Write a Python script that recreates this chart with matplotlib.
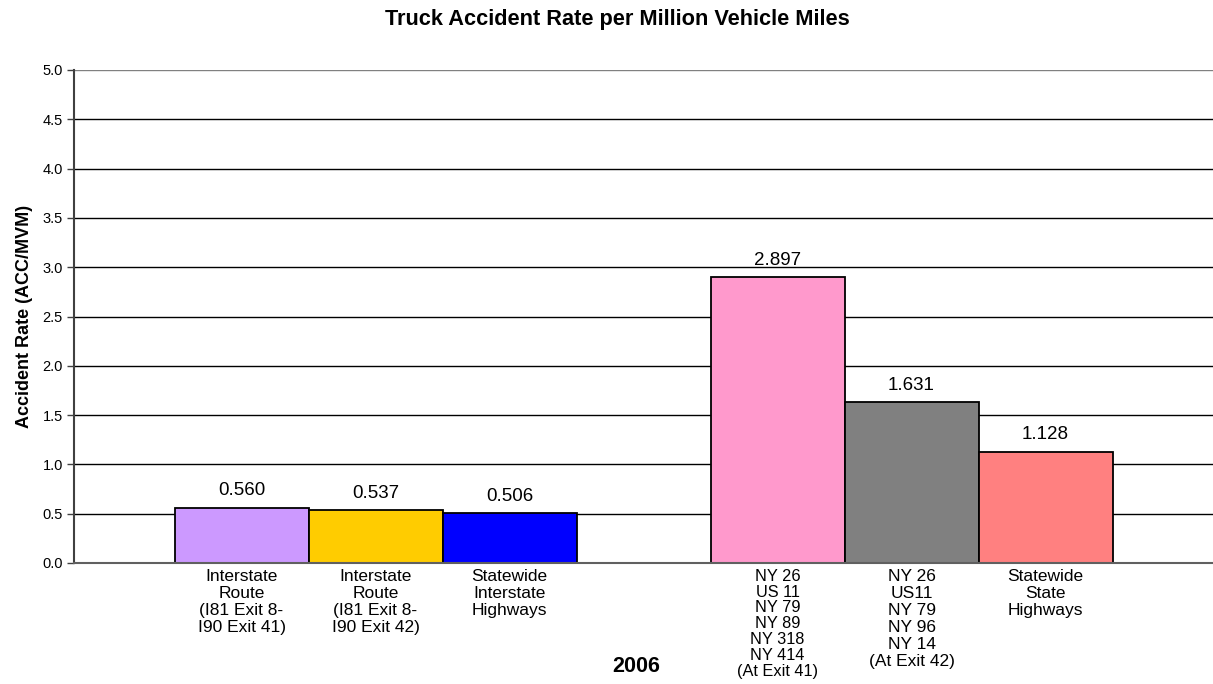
import matplotlib
matplotlib.use("Agg")
import matplotlib.pyplot as plt

plt.rcParams['font.family'] = ['Liberation Sans', 'DejaVu Sans']

categories = [
    "Interstate\nRoute\n(I81 Exit 8-\nI90 Exit 41)",
    "Interstate\nRoute\n(I81 Exit 8-\nI90 Exit 42)",
    "Statewide\nInterstate\nHighways",
    "NY 26\nUS 11\nNY 79\nNY 89\nNY 318\nNY 414\n(At Exit 41)",
    "NY 26\nUS11\nNY 79\nNY 96\nNY 14\n(At Exit 42)",
    "Statewide\nState\nHighways",
]
values = [0.560, 0.537, 0.506, 2.897, 1.631, 1.128]
value_labels = ["0.560", "0.537", "0.506", "2.897", "1.631", "1.128"]
colors = ["#CC99FF", "#FFCC00", "#0000FF", "#FF99CC", "#808080", "#FF8080"]
positions = [0, 1, 2, 4, 5, 6]
yticks = [0.0, 0.5, 1.0, 1.5, 2.0, 2.5, 3.0, 3.5, 4.0, 4.5, 5.0]
title = "Truck Accident Rate per Million Vehicle Miles"
ylabel = "Accident Rate (ACC/MVM)"
year_label = "2006"

fig = plt.figure(figsize=(12.13, 6.84), dpi=100)
ax = fig.add_axes([74/1213, 1-563/684, 1-74/1213, (563-70)/684])

ax.set_ylim(0, 5.0)
ax.set_xlim(-1.25, 7.25)
ax.set_yticks(yticks)
ax.set_yticklabels([f"{t:.1f}" for t in yticks], fontsize=10.5)
for t in yticks[1:]:
    ax.axhline(t, color="black" if t < 5.0 else "#808080", lw=1.0, zorder=0)

bars = ax.bar(positions, values, width=1.0, color=colors, edgecolor="black",
              linewidth=1.3, zorder=2)
for b, lab in zip(bars, value_labels):
    ax.annotate(lab, (b.get_x() + b.get_width()/2, b.get_height()),
                xytext=(0, 6), textcoords="offset points", ha="center",
                va="bottom", fontsize=13.5)

ax.set_xticks(positions)
ticklabels = ax.set_xticklabels(categories, fontsize=12.5, linespacing=1.18, va="top")
ticklabels[3].set_fontsize(11.8)
ticklabels[3].set_linespacing(1.08)
ax.tick_params(axis="x", length=0, pad=4)
ax.tick_params(axis="y", length=5, width=1, color="#404040", direction="out", pad=3)

ax.spines["top"].set_visible(False)
ax.spines["right"].set_visible(False)
ax.spines["left"].set_color("#404040")
ax.spines["left"].set_linewidth(1.5)
ax.spines["bottom"].set_color("#606060")
ax.spines["bottom"].set_linewidth(1.5)

ax.set_ylabel(ylabel, fontsize=13, fontweight="bold", labelpad=7)
fig.text(617/1213, 1-19/684, title, ha="center", va="center",
         fontsize=15.7, fontweight="bold")
fig.text(636/1213, 1-667/684, year_label, ha="center", va="center",
         fontsize=15.5, fontweight="bold")

fig.savefig("out.png", dpi=100)
